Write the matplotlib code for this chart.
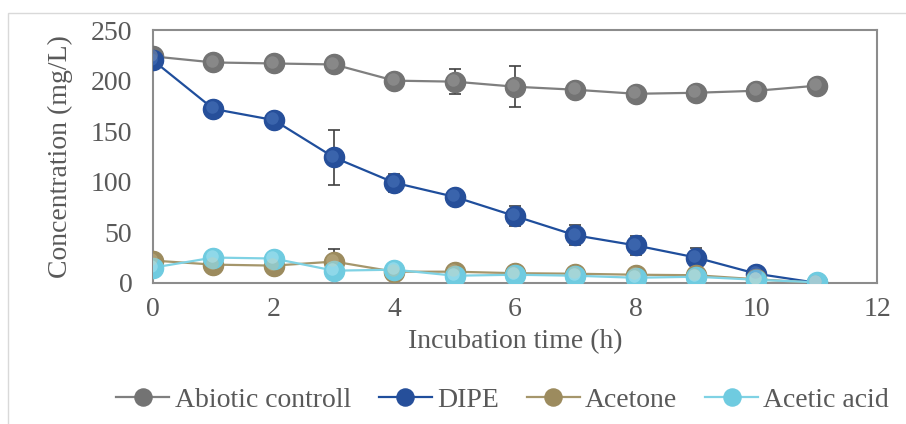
import matplotlib
matplotlib.use('Agg')
import matplotlib.pyplot as plt
import matplotlib.transforms as mtransforms
import numpy as np

# данные
time_h = [0, 1, 2, 3, 4, 5, 6, 7, 8, 9, 10, 11]
abiotic = [224, 218, 217, 216, 200, 199, 194, 191, 187, 188, 190, 195]
abiotic_err = [3, 2, 2, 2, 2, 12.5, 20, 2, 2, 2, 2, 3]
dipe = [220, 172, 161, 124, 99, 85, 66, 47, 37, 25, 9, 0]
dipe_err = [3, 6, 2, 27.5, 9, 3, 10, 10, 9, 9, 2, 0]
acetone = [22, 18, 17, 21, 11, 11, 9.5, 9, 8, 7.5, 3.5, 0]
acetone_err = [2, 2, 2, 12, 2, 2, 1, 1, 1, 1, 1, 0]
acetic = [15, 25, 24, 12, 13, 7, 8, 7, 5, 6, 3, 0.5]
acetic_err = [1, 1, 1, 1, 1, 1, 1, 1, 1, 1, 1, 0]

series = [
    ('Abiotic controll', abiotic, abiotic_err, '#7f7f7f', '#737373', '#a8a8a8'),
    ('DIPE', dipe, dipe_err, '#1f4e9c', '#264f9a', '#5a84c8'),
    ('Acetone', acetone, acetone_err, '#a5966b', '#9c8b5e', '#cbbd95'),
    ('Acetic acid', acetic, acetic_err, '#7fd2e4', '#6fcbe0', '#c0eef8'),
]

txt = '#595959'
plt.rcParams['font.family'] = ['Liberation Serif', 'DejaVu Serif']

fig = plt.figure(figsize=(9.06, 4.24), dpi=100)
ax = fig.add_axes([0.169, 0.333, 0.799, 0.596])

# рамка вокруг всей диаграммы
fig.patches.append(plt.Rectangle((0.009, -0.01), 0.995, 0.98, transform=fig.transFigure,
                                 fill=False, edgecolor='#d9d9d9', lw=1))

hl = mtransforms.offset_copy(ax.transData, fig=fig, x=-1.2, y=1.2, units='points')
for name, vals, err, lc, mc, hc in series:
    ax.errorbar(time_h, vals, yerr=err, fmt='none', ecolor='#404040', elinewidth=1.2,
                capsize=4, capthick=1.2, zorder=2)
    ax.plot(time_h, vals, '-', color=lc, lw=1.6, zorder=3,
            marker='o', ms=14.5, mfc=mc, mec=mc, label=name)
    # блик на шариках
    ax.plot(time_h, vals, 'o', ms=9, color=hc, alpha=0.4, mec='none',
            transform=hl, zorder=4)

ax.set_xlim(0, 12)
ax.set_ylim(0, 250)
ax.set_xticks(range(0, 13, 2))
ax.set_yticks(range(0, 251, 50))
ax.tick_params(axis='y', length=0, labelsize=20, colors=txt, pad=15)
ax.tick_params(axis='x', length=0, labelsize=20, colors=txt, pad=10)
for s in ax.spines.values():
    s.set_color('#8c8c8c')
    s.set_linewidth(1.5)
ax.set_xlabel('Incubation time (h)', fontsize=20, color=txt, labelpad=5)
ax.set_ylabel('Concentration (mg/L)', fontsize=20, color=txt, labelpad=13)

handles, labels = ax.get_legend_handles_labels()
fig.legend(handles, labels, loc='center', bbox_to_anchor=(0.555, 0.057), ncol=4,
           frameon=False, fontsize=20, labelcolor=txt, handlelength=1.9,
           handletextpad=0.2, columnspacing=1.0, markerscale=0.85,
           borderpad=0, borderaxespad=0)

fig.savefig('out.png', dpi=100)
